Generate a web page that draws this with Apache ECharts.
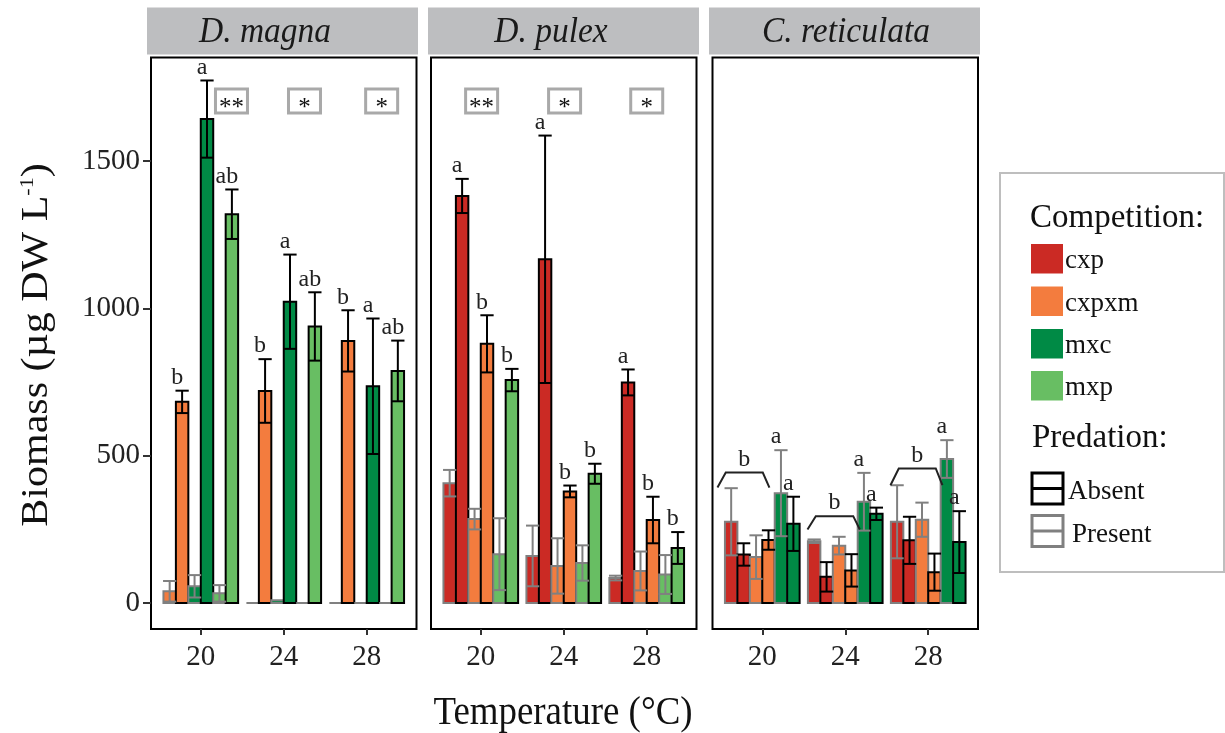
<!DOCTYPE html>
<html><head><meta charset="utf-8">
<script src="https://cdn.jsdelivr.net/npm/echarts@6/dist/echarts.min.js"></script>
<style>html,body{margin:0;padding:0;background:#fff}#c{width:1225px;height:733px}</style>
</head><body><div id="c"></div>
<script>
// ---------------- data ----------------
const temps = ['20', '24', '28'];
const competitions = ['cxp', 'cxpxm', 'mxc', 'mxp'];
const predations = ['Absent', 'Present'];
const panelNames = ['D. magna', 'D. pulex', 'C. reticulata'];
const yTicks = [0, 500, 1000, 1500];

// D. magna (rows: competition, cols: temperature)
const magnaComps = ['cxpxm', 'mxc', 'mxp'];
const magnaAbsentMean = [[683, 720, 890], [1643, 1023, 736], [1320, 939, 788]];
const magnaAbsentSE = [[38, 108, 104], [131, 160, 230], [84, 116, 103]];
const magnaPresentMean = [[40, 0, 0], [57, 10, 0], [33, 0, 0]];
const magnaPresentSE = [[35, 0, 0], [38, 0, 0], [28, 0, 0]];
const magnaLettersAbsent = [['b', 'b', 'b'], ['a', 'a', 'a'], ['ab', 'ab', 'ab']];
const magnaLettersPresent = [['', '', ''], ['', '', ''], ['', '', '']];
const magnaSig = ['**', '*', '*'];

// D. pulex
const pulexComps = ['cxp', 'cxpxm', 'mxp'];
const pulexAbsentMean = [[1382, 1167, 749], [880, 379, 282], [757, 439, 187]];
const pulexAbsentSE = [[58, 420, 44], [97, 20, 79], [38, 34, 54]];
const pulexPresentMean = [[407, 160, 85], [285, 126, 109], [166, 136, 97]];
const pulexPresentSE = [[45, 103, 8], [35, 94, 66], [122, 60, 66]];
const pulexLettersAbsent = [['a', 'a', 'a'], ['b', 'b', 'b'], ['b', 'b', 'b']];
const pulexLettersPresent = [['', '', ''], ['', '', ''], ['', '', '']];
const pulexSig = ['**', '*', '*'];

// C. reticulata
const retComps = ['cxp', 'cxpxm', 'mxc'];
const retAbsentMean = [[165, 89, 213], [214, 111, 105], [269, 303, 207]];
const retAbsentSE = [[38, 50, 80], [33, 55, 63], [92, 21, 105]];
const retPresentMean = [[276, 210, 276], [156, 195, 283], [373, 344, 489]];
const retPresentSE = [[114, 6, 124], [74, 30, 58], [146, 98, 64]];
const retLettersAbsent = [['', '', ''], ['', '', ''], ['a', 'a', 'a']];
const retLettersPresent = [['', '', ''], ['', '', ''], ['a', 'a', 'a']];
const retSig = ['', '', ''];
const retBracketLabel = ['b', 'b', 'b'];
const retBracketTop = [443, 295, 457];
const retBracketEnd = [392, 250, 400];

// ---------------- style / layout ----------------
const FONT = '"Liberation Serif", "Times New Roman", serif';
const compColors = { cxp: '#CB2A24', cxpxm: '#F37C3E', mxc: '#008A45', mxp: '#68BE63' };
const predStroke = { Absent: '#000000', Present: '#808080' };
const BAR_W = 0.15, DODGE = 0.9, CAP_W = 0.16;
const gridLefts = [151, 431, 712.5], gridW = 265.5, gridTop = 57.5, gridH = 571.5;
const Y_MIN = -88, Y_MAX = 1852;
const SIG_Y = 1704;
const sigDx = [[0.37, 0.25, 0.18], [0.01, 0.01, 0.0], [0, 0, 0]];
const bracketL = [-0.54, -0.455, -0.455], bracketR = [0.086, 0.176, 0.171];

const panels = [
  { comps: magnaComps, aM: magnaAbsentMean, aS: magnaAbsentSE, pM: magnaPresentMean, pS: magnaPresentSE, aL: magnaLettersAbsent, pL: magnaLettersPresent, sig: magnaSig },
  { comps: pulexComps, aM: pulexAbsentMean, aS: pulexAbsentSE, pM: pulexPresentMean, pS: pulexPresentSE, aL: pulexLettersAbsent, pL: pulexLettersPresent, sig: pulexSig },
  { comps: retComps, aM: retAbsentMean, aS: retAbsentSE, pM: retPresentMean, pS: retPresentSE, aL: retLettersAbsent, pL: retLettersPresent, sig: retSig }
];

const grids = [], xAxes = [], yAxes = [], series = [];

panels.forEach((pd, p) => {
  grids.push({ left: gridLefts[p], top: gridTop, width: gridW, height: gridH, show: true, borderColor: '#000', borderWidth: 2, backgroundColor: '#fff' });
  xAxes.push({
    type: 'value', gridIndex: p, min: 0.4, max: 3.6,
    axisLine: { show: false, onZero: false }, splitLine: { show: false },
    axisTick: { show: true, customValues: [1, 2, 3], length: 6, lineStyle: { color: '#333', width: 2 } },
    axisLabel: { customValues: [1, 2, 3], formatter: v => temps[Math.round(v) - 1], fontSize: 29, fontFamily: FONT, color: '#222', margin: 14 }
  });
  yAxes.push({
    type: 'value', gridIndex: p, min: Y_MIN, max: Y_MAX,
    axisLine: { show: false, onZero: false }, splitLine: { show: false },
    axisTick: { show: p === 0, customValues: yTicks, length: 8, lineStyle: { color: '#333', width: 2 } },
    axisLabel: { show: p === 0, customValues: yTicks, formatter: v => String(v), fontSize: 29, fontFamily: FONT, color: '#222', margin: 11 }
  });

  const data = [], letters = [];
  pd.comps.forEach((c, j) => {
    temps.forEach((t, i) => {
      // Present first, then Absent within each competition
      data.push([i, 2 * j, pd.pM[j][i], pd.pS[j][i], competitions.indexOf(c), 0]);
      letters.push(pd.pL[j][i]);
      data.push([i, 2 * j + 1, pd.aM[j][i], pd.aS[j][i], competitions.indexOf(c), 1]);
      letters.push(pd.aL[j][i]);
    });
  });

  series.push({
    type: 'custom', xAxisIndex: p, yAxisIndex: p, z: 2, data: data,
    encode: { x: 0, y: 2 },
    renderItem: (params, api) => {
      const cat = api.value(0), slot = api.value(1), v = api.value(2), ci = api.value(4), pk = api.value(5);
      const x0 = cat + 1 - DODGE / 2 + BAR_W * slot;
      const a = api.coord([x0, 0]), b = api.coord([x0 + BAR_W, v]);
      return {
        type: 'rect',
        shape: { x: a[0], y: Math.min(a[1], b[1]), width: b[0] - a[0], height: Math.abs(a[1] - b[1]) },
        style: { fill: compColors[competitions[ci]], stroke: pk ? predStroke.Absent : predStroke.Present, lineWidth: 2 }
      };
    }
  });

  series.push({
    type: 'custom', xAxisIndex: p, yAxisIndex: p, z: 3, data: data,
    encode: { x: 0, y: 2 },
    renderItem: (params, api) => {
      const cat = api.value(0), slot = api.value(1), v = api.value(2), se = api.value(3), pk = api.value(5);
      const xc = cat + 1 - DODGE / 2 + BAR_W * slot + BAR_W / 2;
      const col = pk ? predStroke.Absent : predStroke.Present;
      const children = [];
      if (se > 0) {
        const top = api.coord([xc, v + se]), bot = api.coord([xc, v - se]);
        const hw = api.size([CAP_W, 0])[0] / 2;
        children.push({ type: 'line', shape: { x1: top[0], y1: top[1], x2: bot[0], y2: bot[1] }, style: { stroke: col, lineWidth: 2 } });
        children.push({ type: 'line', shape: { x1: top[0] - hw, y1: top[1], x2: top[0] + hw, y2: top[1] }, style: { stroke: col, lineWidth: 2 } });
        children.push({ type: 'line', shape: { x1: bot[0] - hw, y1: bot[1], x2: bot[0] + hw, y2: bot[1] }, style: { stroke: col, lineWidth: 2 } });
      }
      const L = letters[params.dataIndex];
      if (L) {
        const tp = api.coord([xc - 0.06, v + se]);
        children.push({ type: 'text', x: tp[0], y: tp[1] - 1, style: { text: L, fontSize: 24, fontFamily: FONT, fill: '#222', align: 'center', verticalAlign: 'bottom' } });
      }
      return { type: 'group', children };
    }
  });

  const sigData = [];
  pd.sig.forEach((s, i) => { if (s) sigData.push([i + 1 + sigDx[p][i], SIG_Y, i]); });
  if (sigData.length) {
    series.push({
      type: 'custom', xAxisIndex: p, yAxisIndex: p, z: 4, data: sigData,
      encode: { x: 0, y: 1 },
      renderItem: (params, api) => {
        const c = api.coord([api.value(0), api.value(1)]);
        const s = pd.sig[api.value(2)];
        return {
          type: 'group', children: [
            { type: 'rect', shape: { x: c[0] - 16, y: c[1] - 12, width: 32, height: 24 }, style: { fill: '#fff', stroke: '#A9A9A9', lineWidth: 3 } },
            { type: 'text', x: c[0], y: c[1] + 7, style: { text: s, fontSize: 25, fontFamily: FONT, fill: '#111', align: 'center', verticalAlign: 'middle' } }
          ]
        };
      }
    });
  }
});

// brackets in C. reticulata
series.push({
  type: 'custom', xAxisIndex: 2, yAxisIndex: 2, z: 4,
  data: temps.map((t, i) => [i, retBracketTop[i], retBracketEnd[i]]),
  encode: { x: 0, y: 1 },
  renderItem: (params, api) => {
    const i = api.value(0), yt = api.value(1), ye = api.value(2);
    const xl = i + 1 + bracketL[i], xr = i + 1 + bracketR[i];
    const p1 = api.coord([xl, ye]), p2 = api.coord([xl + 0.1, yt]), p3 = api.coord([xr - 0.08, yt]), p4 = api.coord([xr, ye]);
    return {
      type: 'group', children: [
        { type: 'polyline', shape: { points: [p1, p2, p3, p4] }, style: { stroke: '#222', lineWidth: 2, fill: null } },
        { type: 'text', x: (p2[0] + p3[0]) / 2, y: p2[1] - 1, style: { text: retBracketLabel[i], fontSize: 24, fontFamily: FONT, fill: '#222', align: 'center', verticalAlign: 'bottom' } }
      ]
    };
  }
});

// ---------------- graphics: strips, titles, legend ----------------
const graphic = [];
const stripLefts = [147, 428, 709];
const stripTextX = [265, 551, 846];
panelNames.forEach((n, p) => {
  graphic.push({ type: 'rect', left: stripLefts[p], top: 7.5, shape: { width: 271, height: 47 }, style: { fill: '#BDBEC0' }, z: 1 });
  graphic.push({ type: 'text', x: stripTextX[p], y: 33, scaleX: 0.93, style: { text: n, fontSize: 36, fontStyle: 'italic', fontFamily: FONT, fill: '#1a1a1a', align: 'center', verticalAlign: 'middle' }, z: 2 });
});
graphic.push({ type: 'text', x: 563, y: 713, scaleX: 0.9, style: { text: 'Temperature (°C)', fontSize: 41, fontFamily: FONT, fill: '#111', align: 'center', verticalAlign: 'middle' } });
graphic.push({
  type: 'text', x: 37, y: 345, rotation: Math.PI / 2, scaleY: 0.9,
  style: {
    text: '{a|Biomass (µg DW L}{s|-1}{a|)}', align: 'center', verticalAlign: 'middle', fill: '#111',
    rich: { a: { fontSize: 42, fontFamily: FONT, fill: '#111' }, s: { fontSize: 22, fontFamily: FONT, fill: '#111', verticalAlign: 'top' } }
  }
});
// legend
graphic.push({ type: 'rect', shape: { x: 1000, y: 173, width: 224, height: 399 }, style: { fill: '#fff', stroke: '#BEBEBE', lineWidth: 2 } });
graphic.push({ type: 'text', x: 1030, y: 218, style: { text: 'Competition:', fontSize: 33, fontFamily: FONT, fill: '#111', verticalAlign: 'middle' } });
const keyTops = [244, 286.5, 329, 371];
competitions.forEach((c, k) => {
  graphic.push({ type: 'rect', shape: { x: 1031, y: keyTops[k], width: 32, height: 29.5 }, style: { fill: compColors[c] } });
  graphic.push({ type: 'text', x: 1065, y: keyTops[k] + 17, style: { text: c, fontSize: 27, fontFamily: FONT, fill: '#111', verticalAlign: 'middle' } });
});
graphic.push({ type: 'text', x: 1032, y: 438, style: { text: 'Predation:', fontSize: 33, fontFamily: FONT, fill: '#111', verticalAlign: 'middle' } });
const predKeyTops = [473, 515.5];
const predTextX = [1068, 1072];
['Absent', 'Present'].forEach((pn, k) => {
  const y0 = predKeyTops[k];
  graphic.push({ type: 'rect', shape: { x: 1032, y: y0, width: 31, height: 31 }, style: { fill: '#fff', stroke: predStroke[pn], lineWidth: 3 } });
  graphic.push({ type: 'line', shape: { x1: 1032, y1: y0 + 15.5, x2: 1063, y2: y0 + 15.5 }, style: { stroke: predStroke[pn], lineWidth: 3 } });
  graphic.push({ type: 'text', x: predTextX[k], y: y0 + 19, style: { text: pn, fontSize: 27, fontFamily: FONT, fill: '#111', verticalAlign: 'middle' } });
});

const chart = echarts.init(document.getElementById('c'), null, { renderer: 'canvas' });
chart.setOption({
  animation: false,
  backgroundColor: '#fff',
  grid: grids, xAxis: xAxes, yAxis: yAxes, series: series, graphic: graphic
});
</script>
</body></html>
